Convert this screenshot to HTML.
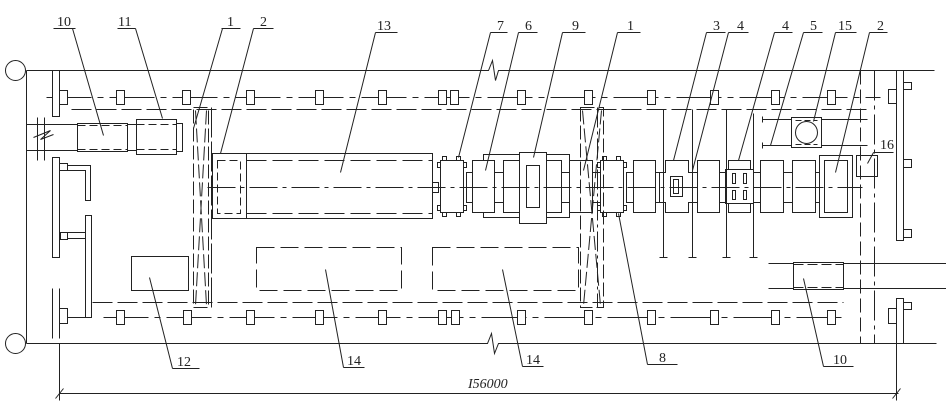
<!DOCTYPE html>
<html><head><meta charset="utf-8"><style>
html,body{margin:0;padding:0;background:#fff;}
svg{display:block;}
text{font-family:"Liberation Serif",serif;font-size:14px;fill:#222;stroke:none;}
</style></head><body>
<svg width="946" height="418" viewBox="0 0 946 418" xmlns="http://www.w3.org/2000/svg">
<g transform="translate(0.5,0.5)" stroke="#222" stroke-width="1" fill="none">

<!-- walls -->
<path d="M26 70 H488 L492 60 L495 80 L498 70 H934"/>
<path d="M26 343 H487 L491 333 L494 353 L498 343 H936"/>
<path d="M26 70 V343"/>
<circle cx="15" cy="70" r="10"/>
<circle cx="15" cy="343" r="10"/>

<!-- column lines -->
<path d="M46 97 H880" stroke-dasharray="45 6 6 6"/>
<path d="M71 109 H868" stroke-dasharray="20 5"/>
<path d="M92 302 H843" stroke-dasharray="20 5"/>
<path d="M103 317 H845" stroke-dasharray="45 6 6 6"/>
<path d="M67 317 H85"/>

<!-- markers top -->
<g fill="#fff">
<rect x="116" y="90" width="8" height="14"/>
<rect x="182" y="90" width="8" height="14"/>
<rect x="246" y="90" width="8" height="14"/>
<rect x="315" y="90" width="8" height="14"/>
<rect x="378" y="90" width="8" height="14"/>
<rect x="438" y="90" width="8" height="14"/>
<rect x="450" y="90" width="8" height="14"/>
<rect x="517" y="90" width="8" height="14"/>
<rect x="584" y="90" width="8" height="14"/>
<rect x="647" y="90" width="8" height="14"/>
<rect x="710" y="90" width="8" height="14"/>
<rect x="771" y="90" width="8" height="14"/>
<rect x="827" y="90" width="8" height="14"/>
<!-- markers bottom -->
<rect x="116" y="310" width="8" height="14"/>
<rect x="183" y="310" width="8" height="14"/>
<rect x="246" y="310" width="8" height="14"/>
<rect x="315" y="310" width="8" height="14"/>
<rect x="378" y="310" width="8" height="14"/>
<rect x="438" y="310" width="8" height="14"/>
<rect x="451" y="310" width="8" height="14"/>
<rect x="517" y="310" width="8" height="14"/>
<rect x="584" y="310" width="8" height="14"/>
<rect x="647" y="310" width="8" height="14"/>
<rect x="710" y="310" width="8" height="14"/>
<rect x="771" y="310" width="8" height="14"/>
<rect x="827" y="310" width="8" height="14"/>
</g>

<!-- left structures -->
<rect x="52" y="70" width="7" height="46" fill="#fff"/>
<rect x="59" y="90" width="8" height="14" fill="#fff"/>
<path d="M26 124 H77 M26 150 H77"/>
<path d="M37 117 V160 M44 117 V160"/>
<path d="M33 137 L50 130 L40 139 L53 134" fill="none"/>
<rect x="77" y="123" width="50" height="28" fill="#fff"/>
<path d="M77 125 H127 M77 149 H127" stroke-dasharray="8 4"/>
<rect x="127" y="124" width="9" height="26" fill="#fff"/>
<rect x="136" y="119" width="40" height="35" fill="#fff"/>
<path d="M136 124 H176 M136 149 H176" stroke-dasharray="8 4"/>
<rect x="176" y="123" width="6" height="28" fill="#fff"/>

<rect x="52" y="157" width="7" height="100"/>
<rect x="59" y="163" width="8" height="7"/>
<path d="M67 165 H90 V200 H85 V170 H67"/>
<rect x="60" y="232" width="7" height="7"/>
<path d="M67 232 H85 M67 238 H85"/>
<rect x="85" y="215" width="6" height="102"/>
<path d="M52 288 V338 M59 288 V338"/>
<rect x="59" y="308" width="8" height="15"/>

<rect x="131" y="256" width="57" height="34"/>

<!-- dashed boxes 14 -->
<rect x="256" y="247" width="145" height="43" stroke-dasharray="18 6"/>
<rect x="432" y="247" width="146" height="43" stroke-dasharray="18 6"/>

<!-- main row -->
<rect x="212" y="153" width="34" height="65" fill="#fff"/>
<rect x="217" y="160" width="23" height="53" stroke-dasharray="8 4"/>
<rect x="246" y="153" width="186" height="65" fill="#fff"/>
<path d="M246 160 H432 M246 213 H432" stroke-dasharray="20 6"/>
<rect x="432" y="182" width="6" height="10" fill="#fff"/>

<!-- base frame -->
<rect x="483" y="154" width="86" height="63"/>

<g fill="#fff">
<!-- 7 -->
<rect x="442" y="156" width="4" height="4"/><rect x="456" y="156" width="4" height="4"/>
<rect x="442" y="212" width="4" height="4"/><rect x="456" y="212" width="4" height="4"/>
<rect x="437" y="162" width="3" height="5"/><rect x="463" y="162" width="3" height="5"/>
<rect x="437" y="205" width="3" height="5"/><rect x="463" y="205" width="3" height="5"/>
<rect x="440" y="160" width="23" height="52"/>
<rect x="466" y="172" width="6" height="30"/>
<rect x="472" y="160" width="22" height="52"/>
<rect x="494" y="172" width="9" height="30"/>
<rect x="503" y="160" width="16" height="52"/>
<rect x="519" y="152" width="27" height="71"/>
<rect x="526" y="165" width="13" height="42"/>
<rect x="546" y="160" width="15" height="52"/>
<rect x="561" y="172" width="8" height="30"/>
<rect x="569" y="160" width="23" height="52"/>
<rect x="592" y="172" width="8" height="30"/>
<!-- 8 -->
<rect x="602" y="156" width="4" height="4"/><rect x="616" y="156" width="4" height="4"/>
<rect x="602" y="212" width="4" height="4"/><rect x="616" y="212" width="4" height="4"/>
<rect x="597" y="162" width="3" height="5"/><rect x="623" y="162" width="3" height="5"/>
<rect x="597" y="205" width="3" height="5"/><rect x="623" y="205" width="3" height="5"/>
<rect x="600" y="160" width="23" height="52"/>
<rect x="626" y="172" width="7" height="30"/>
<rect x="633" y="160" width="22" height="52"/>
<rect x="655" y="172" width="10" height="30"/>
<!-- 3 -->
<path d="M665 160 H688 V172 H692 V202 H688 V212 H665 V202 H659 V172 H665 Z"/>
<rect x="670" y="176" width="12" height="20"/>
<rect x="673" y="179" width="5" height="14"/>
<rect x="692" y="172" width="5" height="30"/>
<rect x="697" y="160" width="22" height="52"/>
<rect x="719" y="172" width="6" height="30"/>
<!-- 4 -->
<rect x="728" y="160" width="22" height="52"/>
<rect x="725" y="169" width="28" height="34"/>
<rect x="732" y="173" width="3" height="10"/><rect x="743" y="173" width="3" height="10"/>
<rect x="732" y="190" width="3" height="9"/><rect x="743" y="190" width="3" height="9"/>
<rect x="753" y="172" width="7" height="30"/>
<rect x="760" y="160" width="23" height="52"/>
<rect x="783" y="172" width="9" height="30"/>
<rect x="792" y="160" width="23" height="52"/>
<rect x="815" y="172" width="4" height="30"/>
<!-- 2 right -->
<rect x="819" y="155" width="33" height="62"/>
<rect x="824" y="160" width="23" height="52"/>
<!-- 16 -->
<rect x="856" y="155" width="21" height="21"/>
</g>

<!-- centerline -->
<path d="M207 187 H862" stroke-dasharray="28 5 4 5"/>

<!-- dashed elements 1 -->
<rect x="193" y="107" width="15" height="200" stroke-dasharray="14 4"/>
<path d="M211 107 V307" stroke-dasharray="30 4"/>
<path d="M195 110 L206 305 M206 110 L195 305" stroke-dasharray="14 4"/>
<rect x="580" y="107" width="23" height="200" stroke-dasharray="14 4"/>
<path d="M582 110 L600 305 M601 110 L583 305" stroke-dasharray="14 4"/>
<path d="M597 107 V307" stroke-dasharray="20 4 3 4"/>

<!-- rods -->
<path d="M663 109 V257 M659 257 H667"/>
<path d="M692 109 V257 M688 257 H696"/>
<path d="M726 109 V257 M722 257 H730"/>
<path d="M753 113 V257 M749 257 H757"/>

<!-- 5 / 15 -->
<path d="M762 119 H867 M762 145 H867 M762 116 V122 M762 142 V148"/>
<rect x="791" y="117" width="30" height="30" fill="#fff"/>
<path d="M795 120 H817 M795 144 H817" stroke-dasharray="6 3"/>
<circle cx="806" cy="132" r="11"/>

<!-- right 10 -->
<path d="M768 263 H946 M768 288 H946"/>
<rect x="793" y="262" width="50" height="27" fill="#fff"/>
<path d="M793 264 H843 M793 287 H843" stroke-dasharray="10 4"/>

<!-- right vertical lines -->
<path d="M860 70 V343" stroke-dasharray="14 5"/>
<path d="M874 70 V343" stroke-dasharray="30 5 4 5"/>

<!-- right bars -->
<rect x="896" y="70" width="7" height="170" fill="#fff"/>
<rect x="903" y="82" width="8" height="7"/>
<rect x="903" y="159" width="8" height="8"/>
<rect x="903" y="229" width="8" height="8"/>
<rect x="888" y="89" width="8" height="14"/>
<rect x="896" y="298" width="7" height="45" fill="#fff"/>
<rect x="903" y="302" width="8" height="7"/>
<rect x="888" y="308" width="8" height="15"/>

<!-- dimension -->
<path d="M59 343 V400 M896 343 V400 M59 393 H898"/>
<path d="M55 398 L63 388 M892 398 L900 388"/>

<!-- leaders & underlines -->
<path d="M53 28 H75 M72 28 L103 135"/>
<path d="M117 28 H135 M135 28 L162 118"/>
<path d="M221 28 H240 M222 28 L193 128"/>
<path d="M253 28 H273 M253 28 L220 153"/>
<path d="M375 32 H397 M375 32 L340 172"/>
<path d="M490 32 H507 M490 32 L458 157"/>
<path d="M518 32 H537 M518 32 L485 170"/>
<path d="M562 32 H585 M562 32 L533 157"/>
<path d="M617 32 H640 M617 32 L583 170"/>
<path d="M706 32 H725 M706 32 L673 160"/>
<path d="M728 32 H748 M728 32 L692 170"/>
<path d="M774 32 H792 M774 32 L738 160"/>
<path d="M803 32 H822 M803 32 L770 145"/>
<path d="M835 32 H856 M835 32 L813 121"/>
<path d="M869 32 H887 M869 32 L835 172"/>
<path d="M873 152 H893 M873 152 L867 163"/>
<path d="M172 368 H199 M172 368 L149 277"/>
<path d="M343 367 H364 M343 367 L325 269"/>
<path d="M522 366 H543 M522 366 L502 269"/>
<path d="M647 364 H677 M647 364 L618 213"/>
<path d="M823 366 H853 M823 366 L803 278"/>
</g>

<g>
<text x="57" y="26">10</text>
<text x="118" y="26">11</text>
<text x="227" y="26">1</text>
<text x="260" y="26">2</text>
<text x="377" y="30">13</text>
<text x="497" y="30">7</text>
<text x="525" y="30">6</text>
<text x="572" y="30">9</text>
<text x="627" y="30">1</text>
<text x="713" y="30">3</text>
<text x="737" y="30">4</text>
<text x="782" y="30">4</text>
<text x="810" y="30">5</text>
<text x="838" y="30">15</text>
<text x="877" y="30">2</text>
<text x="880" y="149">16</text>
<text x="177" y="366">12</text>
<text x="347" y="365">14</text>
<text x="526" y="364">14</text>
<text x="659" y="362">8</text>
<text x="833" y="364">10</text>
<text x="468" y="388" font-style="italic">I56000</text>
</g>
</svg>
</body></html>
